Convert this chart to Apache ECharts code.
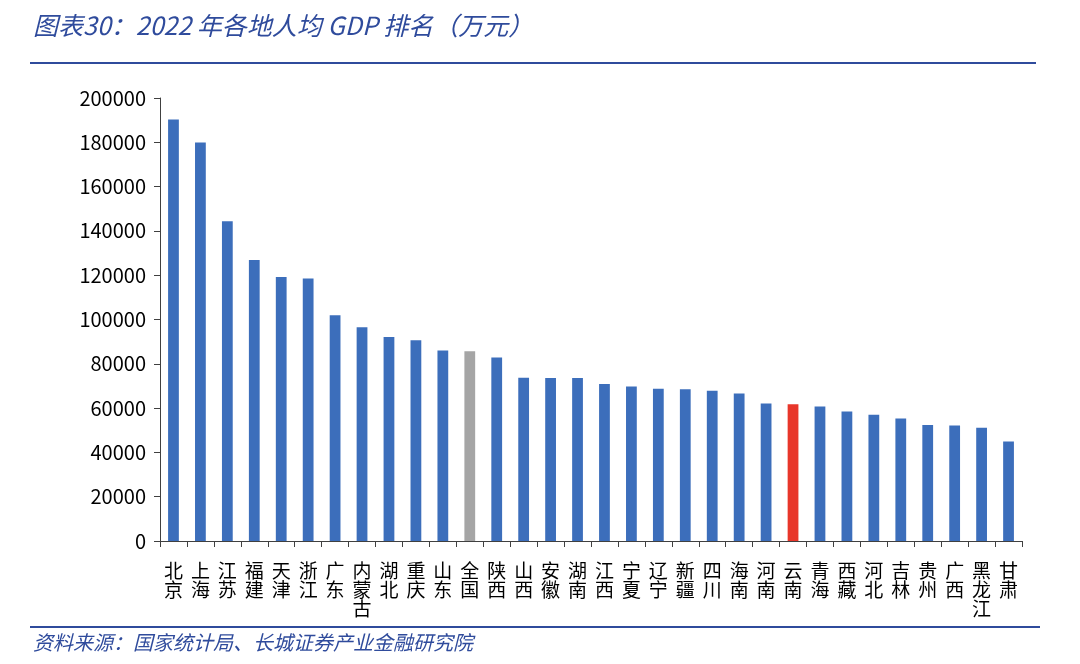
<!DOCTYPE html>
<html><head><meta charset="utf-8">
<script src="https://cdn.jsdelivr.net/npm/echarts@6/dist/echarts.min.js"></script>
<style>html,body{margin:0;padding:0;background:#fff}#c{width:1080px;height:664px}</style>
</head><body><div id="c"></div>
<script>
const categories = ['北京','上海','江苏','福建','天津','浙江','广东','内蒙古','湖北','重庆','山东','全国','陕西','山西','安徽','湖南','江西','宁夏','辽宁','新疆','四川','海南','河南','云南','青海','西藏','河北','吉林','贵州','广西','黑龙江','甘肃'];
const values = [190313,179907,144390,126829,119235,118496,101905,96474,92059,90663,86003,85698,82864,73675,73603,73598,70923,69781,68775,68552,67777,66602,62106,61716,60724,58438,56995,55347,52321,52164,51096,44968];
const yTicks = [0,20000,40000,60000,80000,100000,120000,140000,160000,180000,200000];
const titleText = '图表30：2022 年各地人均 GDP 排名（万元）';
const sourceText = '资料来源：国家统计局、长城证券产业金融研究院';

const BLUE = '#3C6EBB', RED = '#E8362A', GRAY = '#A5A5A5', DARK = '#2F4B9C';
const FONT = '"Noto Sans CJK SC","Noto Sans",sans-serif';

const chart = echarts.init(document.getElementById('c'));
chart.setOption({
  animation: false,
  title: [
    {text: titleText, left: 28, top: 8, textStyle: {fontFamily: FONT, fontStyle: 'italic', fontWeight: 'normal', fontSize: 25, color: DARK}},
    {text: sourceText, left: 28, top: 627, textStyle: {fontFamily: FONT, fontStyle: 'italic', fontWeight: 'normal', fontSize: 20, color: DARK}}
  ],
  graphic: [
    {type: 'line', shape: {x1: 30, y1: 63, x2: 1036, y2: 63}, style: {stroke: DARK, lineWidth: 2}},
    {type: 'line', shape: {x1: 30, y1: 627, x2: 1040, y2: 627}, style: {stroke: DARK, lineWidth: 2}}
  ],
  grid: {left: 160, right: 58, top: 98, bottom: 123},
  xAxis: {
    type: 'category', data: categories,
    axisLine: {lineStyle: {color: '#404040', width: 1}},
    axisTick: {show: true, length: 6, alignWithLabel: false, lineStyle: {color: '#404040'}},
    axisLabel: {interval: 0, margin: 20, fontFamily: FONT, fontSize: 19, lineHeight: 19, color: '#000',
      formatter: v => v.split('').join('\n')}
  },
  yAxis: {
    type: 'value', min: yTicks[0], max: yTicks[yTicks.length-1], interval: yTicks[1]-yTicks[0],
    splitLine: {show: false},
    axisLine: {show: true, lineStyle: {color: '#404040', width: 1}},
    axisTick: {show: true, length: 6, lineStyle: {color: '#404040'}},
    axisLabel: {margin: 14, fontFamily: FONT, fontSize: 20, color: '#000', formatter: v => String(v)}
  },
  series: [{
    type: 'bar', barWidth: '40%',
    data: values.map((v, i) => ({
      value: v,
      itemStyle: {color: categories[i] === '全国' ? GRAY : (categories[i] === '云南' ? RED : BLUE)}
    }))
  }]
});
</script></body></html>
